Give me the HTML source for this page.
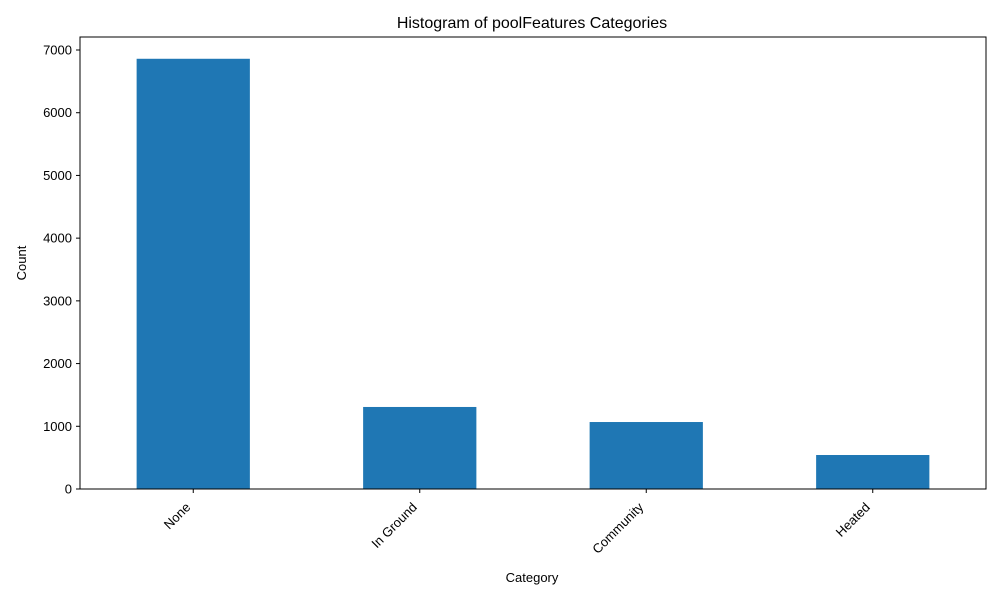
<!DOCTYPE html>
<html><head><meta charset="utf-8"><style>
body{margin:0;background:#fff;font-family:"Liberation Sans",sans-serif;}
</style></head><body>
<svg id="chart" width="1000" height="600" xmlns="http://www.w3.org/2000/svg">
<rect width="1000" height="600" fill="#fff"/>
<text x="532" y="28" text-anchor="middle" font-size="16">Histogram of poolFeatures Categories</text>
<g id="yaxis"></g><g id="bars"></g><g id="xaxis"></g>
<rect x="80" y="37" width="906" height="452" fill="none" stroke="#000" stroke-width="1"/>
<text x="532" y="582" text-anchor="middle" font-size="13">Category</text>
<text x="26" y="263" text-anchor="middle" font-size="13" transform="rotate(-90 26 263)">Count</text>
</svg>
<script>
const categories=["None","In Ground","Community","Heated"];
const counts=[6860,1308,1068,542];
const yTicks=[0,1000,2000,3000,4000,5000,6000,7000];
const NS="http://www.w3.org/2000/svg";
const L=80,R=986,B=489,pxPer=(489-50)/7000;
const y=v=>B-v*pxPer;
const step=(R-L)/categories.length;
const x=i=>L+step*(i+0.5);
function mk(t,a,p){const e=document.createElementNS(NS,t);for(const k in a)e.setAttribute(k,a[k]);p.appendChild(e);return e;}
const ya=document.getElementById('yaxis'),ba=document.getElementById('bars'),xa=document.getElementById('xaxis');
yTicks.forEach(v=>{
 const tk=mk('line',{x1:L-4,x2:L,y1:y(v),y2:y(v),stroke:'#000'},ya);
 
 
 const t=mk('text',{x:L-8,y:y(v)+4.5,'text-anchor':'end','font-size':13},ya);
 t.textContent=v;
 
 
});
categories.forEach((c,i)=>{
 const w=step*0.5;
 const r=mk('rect',{x:x(i)-w/2,y:y(counts[i]),width:w,height:B-y(counts[i]),fill:'#1f77b4'},ba);
 
 
 const tk=mk('line',{x1:x(i),x2:x(i),y1:B,y2:B+4,stroke:'#000'},xa);
 
 
 const ax=x(i)-2,ay=B+19;
 const t=mk('text',{x:ax,y:ay,'text-anchor':'end','font-size':13,transform:`rotate(-45 ${ax} ${ay})`},xa);
 t.textContent=c;
 
 
});
</script>
</body></html>
